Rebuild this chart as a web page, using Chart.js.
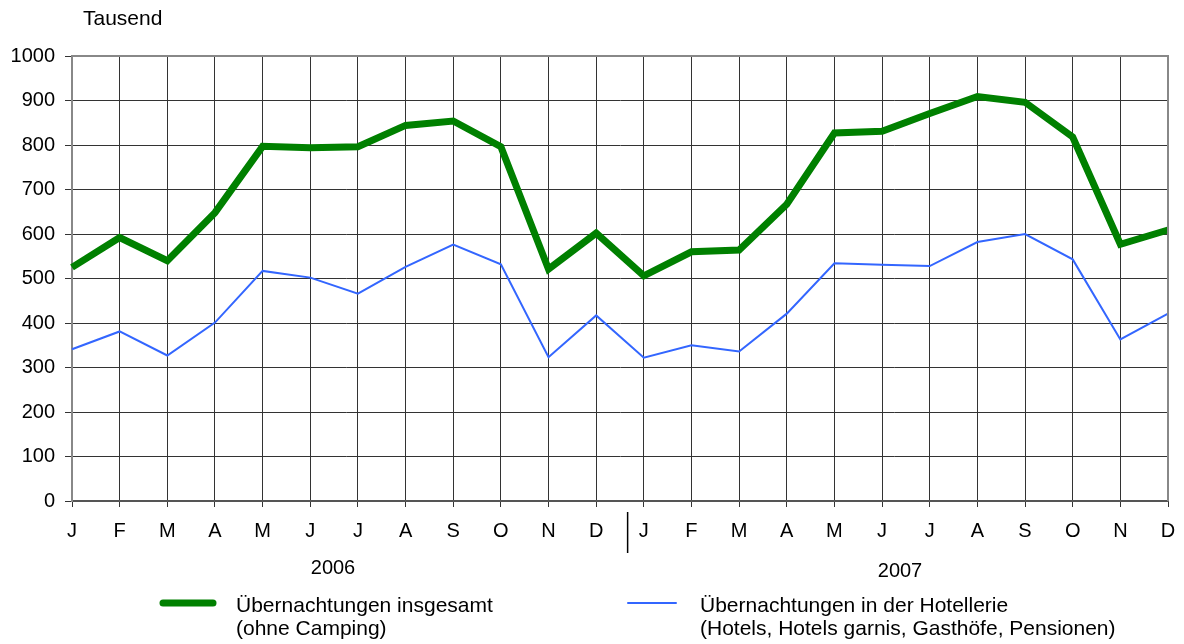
<!DOCTYPE html>
<html>
<head>
<meta charset="utf-8">
<script src="https://cdn.jsdelivr.net/npm/chart.js@4"></script>
<style>
  html, body { margin: 0; padding: 0; background: #fff; }
  #wrap { width: 1184px; height: 644px; position: relative; }
</style>
</head>
<body>
<div id="wrap"><canvas id="chart" width="1184" height="644"></canvas></div>
<script>
// Monatsangaben 2006 und 2007
const months = ['J', 'F', 'M', 'A', 'M', 'J', 'J', 'A', 'S', 'O', 'N', 'D',
                'J', 'F', 'M', 'A', 'M', 'J', 'J', 'A', 'S', 'O', 'N', 'D'];
const years = ['2006', '2007'];

// Übernachtungen insgesamt (ohne Camping), Tausend
const totalNights = [525, 592, 540, 648, 797, 794, 796, 844, 854, 796, 521, 602,
                     506, 560, 564, 667, 827, 831, 871, 909, 896, 818, 577, 609];

// Übernachtungen in der Hotellerie, Tausend
const hotelNights = [341, 381, 327, 401, 517, 502, 466, 526, 576, 532, 323, 417,
                     322, 350, 336, 421, 534, 531, 528, 582, 600, 543, 363, 421];

const seriesLabels = [
  ['Übernachtungen insgesamt', '(ohne Camping)'],
  ['Übernachtungen in der Hotellerie', '(Hotels, Hotels garnis, Gasthöfe, Pensionen)']
];
const yTicks = [0, 100, 200, 300, 400, 500, 600, 700, 800, 900, 1000];

const FONT = '"Liberation Sans", Arial, sans-serif';
const GREEN = '#008000';
const BLUE = '#3366ff';

/**
 * Zusatzbeschriftung: Einheit, Rahmen, Jahre, Trennstrich, Legende
 */
const extrasPlugin = {
  id: 'extras',
  afterDraw(chart) {
    const ctx = chart.ctx;
    const area = chart.chartArea;
    const x = chart.scales.x;

    ctx.save();
    // Rahmen oben / rechts
    ctx.strokeStyle = '#888';
    ctx.lineWidth = 2;
    ctx.beginPath();
    ctx.moveTo(area.left, area.top);
    ctx.lineTo(area.right, area.top);
    ctx.lineTo(area.right, area.bottom);
    ctx.stroke();

    ctx.fillStyle = '#000';
    ctx.font = '21px ' + FONT;
    ctx.textBaseline = 'middle';
    ctx.textAlign = 'left';
    ctx.fillText('Tausend', 83, 19);

    // Trennstrich zwischen den Jahren (etwas rechts der Mitte)
    const sepX = x.getPixelForValue(11) + (x.getPixelForValue(12) - x.getPixelForValue(11)) * 0.66;
    ctx.strokeStyle = '#000';
    ctx.lineWidth = 1.5;
    ctx.beginPath();
    ctx.moveTo(sepX, area.bottom + 11);
    ctx.lineTo(sepX, area.bottom + 52);
    ctx.stroke();

    // Jahreszahlen
    ctx.font = '20px ' + FONT;
    ctx.textAlign = 'center';
    ctx.fillText(years[0], 333, 568);
    ctx.fillText(years[1], 900, 571);

    // Legende
    const legend = [
      { color: GREEN, width: 7, x0: 163, x1: 213, tx: 236 },
      { color: BLUE, width: 2, x0: 628, x1: 676, tx: 700 }
    ];
    legend.forEach((l, i) => {
      ctx.strokeStyle = l.color;
      ctx.lineWidth = l.width;
      ctx.lineCap = 'round';
      ctx.beginPath();
      ctx.moveTo(l.x0, 603);
      ctx.lineTo(l.x1, 603);
      ctx.stroke();
      ctx.fillStyle = '#000';
      ctx.font = '21px ' + FONT;
      ctx.textAlign = 'left';
      ctx.fillText(seriesLabels[i][0], l.tx, 606);
      ctx.fillText(seriesLabels[i][1], l.tx, 629);
    });
    ctx.restore();
  }
};

new Chart(document.getElementById('chart').getContext('2d'), {
  type: 'line',
  data: {
    labels: months,
    datasets: [
      {
        label: seriesLabels[0].join(' '),
        data: totalNights,
        borderColor: GREEN,
        borderWidth: 7,
        pointRadius: 0,
        tension: 0,
        borderJoinStyle: 'miter'
      },
      {
        label: seriesLabels[1].join(' '),
        data: hotelNights,
        borderColor: BLUE,
        borderWidth: 2,
        pointRadius: 0,
        tension: 0
      }
    ]
  },
  options: {
    responsive: false,
    animation: false,
    layout: { padding: { left: 0, right: 16, top: 56, bottom: 0 } },
    scales: {
      x: {
        offset: false,
        afterFit: s => { s.height = 143; s.paddingRight = 0; s.paddingLeft = 0; },
        grid: { color: '#333', lineWidth: 1, tickLength: 6, drawTicks: true },
        border: { color: '#555', width: 2 },
        ticks: {
          color: '#000',
          font: { family: FONT, size: 20 },
          padding: 12,
          maxRotation: 0,
          autoSkip: false
        }
      },
      y: {
        min: 0,
        max: 1000,
        afterFit: s => { s.width = 72; },
        afterBuildTicks: s => { s.ticks = yTicks.map(v => ({ value: v })); },
        grid: { color: '#333', lineWidth: 1, tickLength: 7 },
        border: { color: '#888', width: 2 },
        ticks: {
          color: '#000',
          font: { family: FONT, size: 20 },
          padding: 10,
          callback: v => String(v)
        }
      }
    },
    plugins: {
      legend: { display: false },
      tooltip: { enabled: false }
    }
  },
  plugins: [extrasPlugin]
});
</script>
</body>
</html>
